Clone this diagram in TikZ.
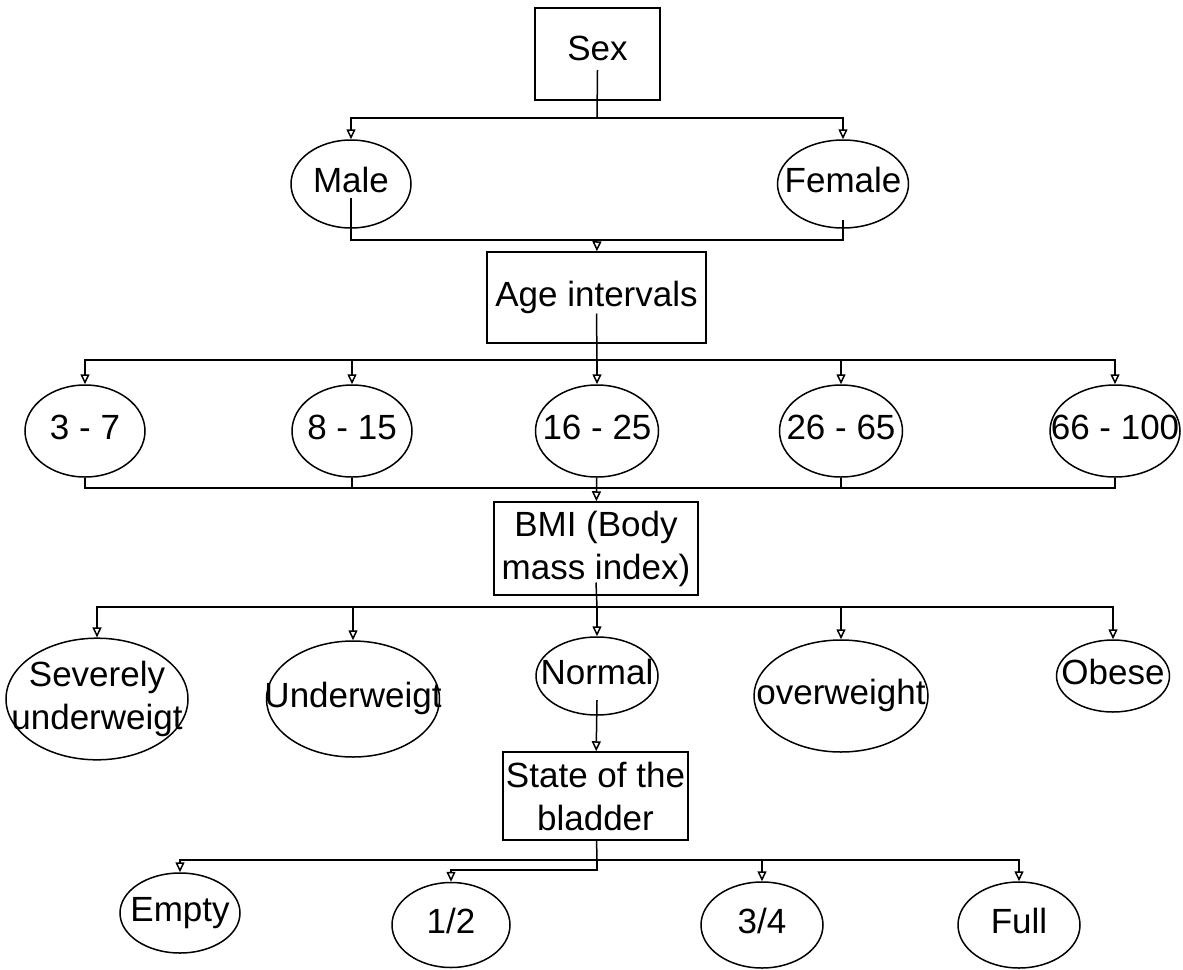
\documentclass[tikz,border=0pt]{standalone}
\usepackage{fontspec}
\setmainfont{Liberation Sans}
\usetikzlibrary{arrows.meta,shapes.geometric}
\newcommand{\etext}[2][0pt]{\makebox[0pt]{\raisebox{#1}{\begin{tabular}{@{}c@{}}#2\end{tabular}}}}
\begin{document}
\begin{tikzpicture}[x=1pt,y=-1pt,
  every node/.style={font=\fontsize{35}{43}\selectfont, inner sep=0pt},
  box/.style={draw, rectangle, line width=1.5pt, align=center},
  ell/.style={draw, ellipse, line width=1.5pt},
  ln/.style={line width=1.5pt},
  arr/.style={line width=1.5pt, -{Triangle[open,length=10pt,width=9pt]}}]
\useasboundingbox (0,0) rectangle (1183,969);

% level 0
\node[box, minimum width=125, minimum height=92] (sex) at (597.5,54) {\raisebox{-6pt}[0pt][0pt]{Sex}};
% level 1
\node[ell, minimum width=120, minimum height=88] (male) at (351,184) {\etext{Male}};
\node[ell, minimum width=131, minimum height=88] (female) at (843,184) {\etext{Female}};
% level 2
\node[box, minimum width=219, minimum height=91] (age) at (596.5,297.5) {Age intervals};
% level 3
\node[ell, minimum width=120, minimum height=92] (a1) at (85,431) {\etext{3 - 7}};
\node[ell, minimum width=120, minimum height=92] (a2) at (352,431) {\etext{8 - 15}};
\node[ell, minimum width=123, minimum height=92] (a3) at (597,431) {\etext{16 - 25}};
\node[ell, minimum width=123, minimum height=92] (a4) at (841,431) {\etext{26 - 65}};
\node[ell, minimum width=130, minimum height=92] (a5) at (1115,431) {\etext{66 - 100}};
% level 4
\node[box, minimum width=204, minimum height=93] (bmi) at (596,548.5) {BMI (Body\\mass index)};
% level 5
\node[ell, minimum width=182, minimum height=116] (b1) at (97,699) {\etext[15pt]{Severely\\underweigt}};
\node[ell, minimum width=173, minimum height=116] (b2) at (353,699) {\etext[7pt]{Underweigt}};
\node[ell, minimum width=122, minimum height=78] (b3) at (597,676) {\etext{Normal}};
\node[ell, minimum width=174, minimum height=112] (b4) at (841,696) {\etext[3pt]{overweight}};
\node[ell, minimum width=113, minimum height=72] (b5) at (1113,676) {\etext{Obese}};
% level 6
\node[box, minimum width=185, minimum height=88] (state) at (595.5,796) {State of the\\bladder};
% level 7
\node[ell, minimum width=120, minimum height=80] (c1) at (180,913) {\etext{Empty}};
\node[ell, minimum width=118, minimum height=85] (c2) at (451,925) {\etext{1/2}};
\node[ell, minimum width=122, minimum height=86] (c3) at (762,925) {\etext{3/4}};
\node[ell, minimum width=122, minimum height=86] (c4) at (1019,925) {\etext{Full}};

% connectors
\coordinate (f1) at (597,118);
\draw[ln] ([yshift=-16pt]sex.center) -- (f1);
\draw[arr] (f1) -| (male);
\draw[arr] (f1) -| (female);

\coordinate (m1) at (597,240);
\draw[ln] ([yshift=-14pt]male.center) |- (m1) -| ([yshift=-36pt]female.center);
\draw[arr] (m1) -- (age);

\coordinate (f2) at (597,360);
\draw[ln] ([yshift=-16pt]age.center) -- (f2);
\draw[arr] (f2) -| (a1);
\draw[arr] (f2) -| (a2);
\draw[arr] (f2) -- (a3);
\draw[arr] (f2) -| (a4);
\draw[arr] (f2) -| (a5);

\coordinate (m2) at (597,488);
\draw[ln] (a1) |- (m2) -| (a5);
\draw[ln] (a2) -- (a2 |- m2);
\draw[ln] (a4) -- (a4 |- m2);
\draw[arr] (a3) -- (bmi);

\coordinate (f3) at (597,607);
\draw[ln] ([yshift=-34pt]bmi.center) -- (f3);
\draw[arr] (f3) -| (b1);
\draw[arr] (f3) -| (b2);
\draw[arr] (f3) -- (b3);
\draw[arr] (f3) -| (b4);
\draw[arr] (f3) -| (b5);

\draw[arr] ([yshift=-24pt]b3.center) -- (state);

\coordinate (f4) at (597,860);
\coordinate (f5) at (597,870);
\draw[ln] (state) -- (f4);
\draw[arr] (f4) -| (c1);
\draw[arr] (f4) -| (c3);
\draw[arr] (f4) -| (c4);
\draw[arr] (f4) -- (f5) -| (c2);
\end{tikzpicture}
\end{document}
